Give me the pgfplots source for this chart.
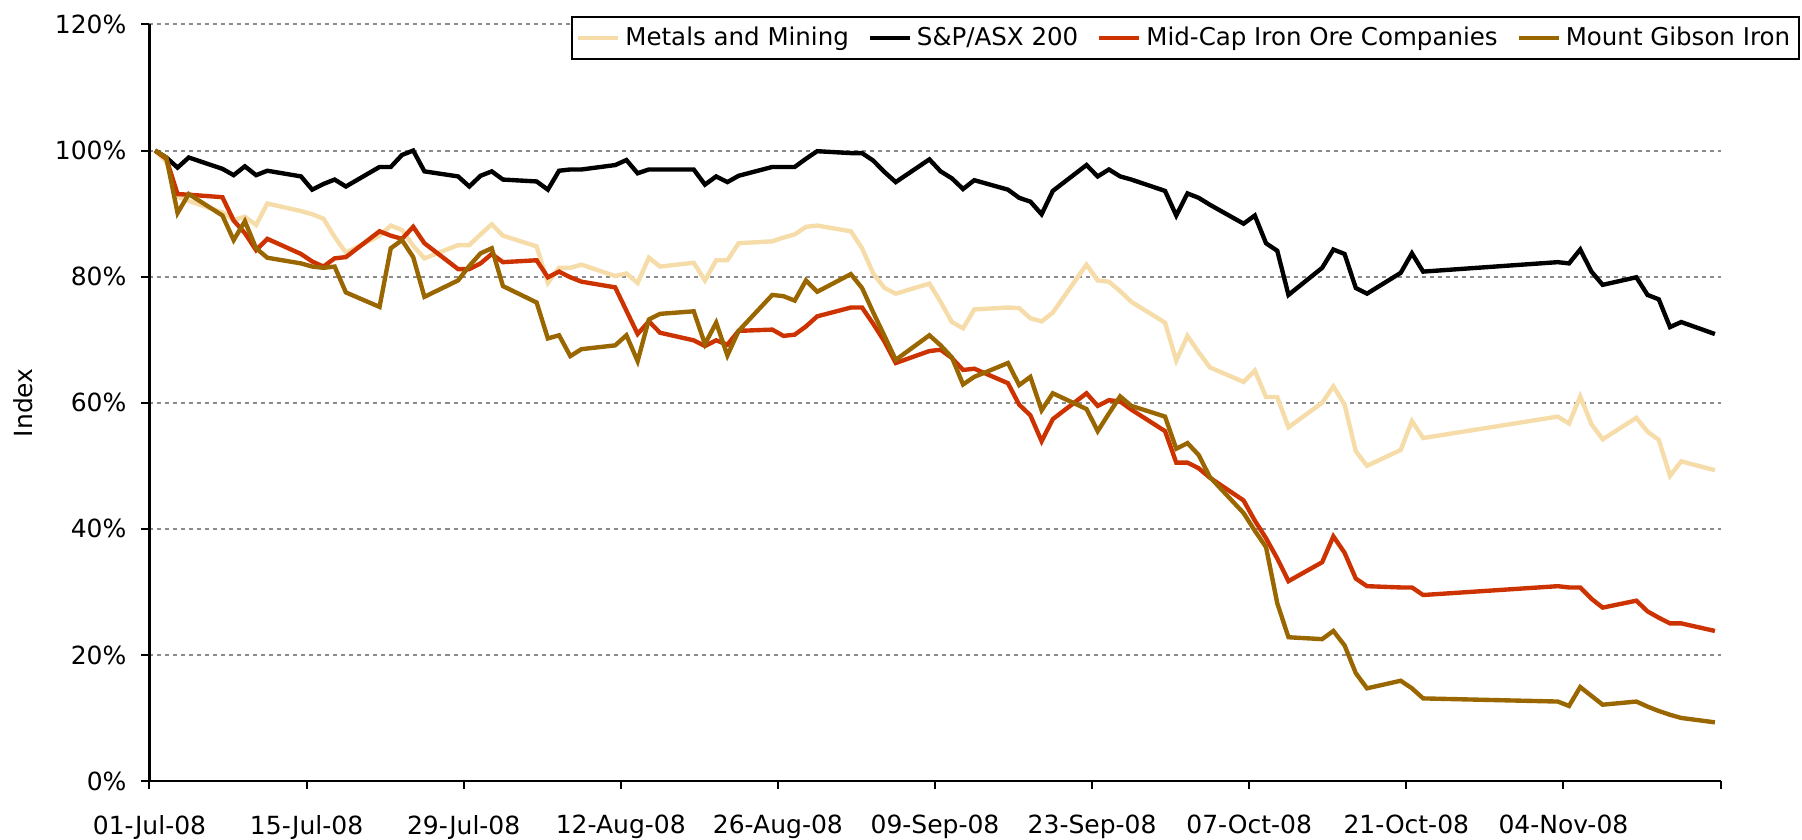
\documentclass[border=0pt]{standalone}
\usepackage{fontspec}
\setmainfont{DejaVu Sans}
\usepackage{pgfplots}
\usepackage{pgfplotstable}
\pgfplotsset{compat=1.18}
\definecolor{mmcol}{RGB}{245,220,168}
\definecolor{midcol}{RGB}{204,51,0}
\definecolor{mgicol}{RGB}{153,102,0}
\definecolor{gridcol}{RGB}{140,140,140}
\pgfplotstableread{
d mm asx mid mgi
0 100 100 100 100
1 98.2 98.9 98.7 98.9
2 92.7 97.3 93.1 90.1
3 92.0 98.9 93.0 93.1
6 90.2 97.1 92.6 89.7
7 89.0 96.1 88.9 85.8
8 89.5 97.5 86.9 88.8
9 88.2 96.1 84.2 84.5
10 91.6 96.8 86.0 83.0
13 90.4 95.9 83.6 82.1
14 89.9 93.8 82.4 81.6
15 89.2 94.7 81.6 81.4
16 86.3 95.4 82.9 81.6
17 83.8 94.3 83.1 77.5
20 86.5 97.4 87.2 75.2
21 88.1 97.4 86.5 84.5
22 87.4 99.3 86.0 85.8
23 84.9 100.0 87.9 83.1
24 82.9 96.7 85.3 76.8
27 85.0 95.9 81.2 79.4
28 85.0 94.3 81.2 81.7
29 86.7 96.0 82.1 83.7
30 88.3 96.7 83.6 84.5
31 86.5 95.4 82.3 78.5
34 84.8 95.1 82.6 75.9
35 79.0 93.8 79.9 70.2
36 81.4 96.8 80.8 70.7
37 81.4 97.0 79.9 67.4
38 81.9 97.0 79.2 68.5
41 80.1 97.7 78.3 69.1
42 80.5 98.5 74.6 70.7
43 79.0 96.4 70.9 66.6
44 83.0 97.0 72.9 73.2
45 81.6 97.0 71.1 74.1
48 82.2 97.0 69.9 74.5
49 79.4 94.6 69.0 69.3
50 82.6 95.9 69.9 72.7
51 82.6 95.0 69.2 67.5
52 85.3 96.0 71.4 71.4
55 85.6 97.4 71.6 77.1
56 86.2 97.4 70.6 76.9
57 86.7 97.4 70.8 76.2
58 87.9 98.7 72.1 79.4
59 88.1 99.9 73.7 77.6
62 87.2 99.6 75.1 80.4
63 84.5 99.6 75.1 78.2
64 80.5 98.4 72.5 74.3
65 78.2 96.6 69.7 70.6
66 77.3 95.0 66.3 66.8
69 78.9 98.6 68.2 70.7
70 76.0 96.7 68.4 69.1
71 72.8 95.6 67.1 67.2
72 71.8 93.9 65.2 62.9
73 74.8 95.3 65.4 64.1
76 75.1 93.8 63.1 66.3
77 75.0 92.5 59.7 62.8
78 73.4 91.9 58.0 64.1
79 72.9 89.9 53.9 58.8
80 74.3 93.6 57.4 61.5
83 81.9 97.7 61.5 59.0
84 79.4 95.9 59.5 55.5
85 79.2 97.0 60.4 58.3
86 77.7 95.9 60.2 61.0
87 76.0 95.4 58.9 59.5
90 72.7 93.6 55.5 57.8
91 66.7 89.7 50.5 52.7
92 70.6 93.2 50.5 53.6
93 68.0 92.5 49.6 51.7
94 65.6 91.4 48.1 48.2
97 63.3 88.4 44.5 42.5
98 65.1 89.7 41.3 39.7
99 60.9 85.3 38.5 37.1
100 60.9 84.1 35.3 28.2
101 56.1 77.1 31.7 22.8
104 60.0 81.4 34.7 22.5
105 62.6 84.3 38.8 23.8
106 59.7 83.6 36.2 21.5
107 52.3 78.2 32.1 17.1
108 50.0 77.3 30.9 14.7
111 52.5 80.6 30.7 15.9
112 57.1 83.7 30.7 14.7
113 54.4 80.8 29.5 13.1
125 57.8 82.3 30.9 12.6
126 56.7 82.1 30.7 11.9
127 61.0 84.3 30.7 14.9
128 56.6 80.8 28.9 13.5
129 54.2 78.7 27.5 12.1
132 57.6 79.9 28.6 12.6
133 55.4 77.1 26.9 11.8
134 54.1 76.4 25.9 11.1
135 48.4 72.0 25.0 10.5
136 50.7 72.8 25.0 10.0
139 49.3 70.9 23.8 9.3
}\data
\begin{document}
\begin{tikzpicture}
\useasboundingbox (-59.8pt,-23.6pt) rectangle (661pt,312.4pt);
\begin{axis}[
  at={(0,0)}, anchor=south west,
  scale only axis, width=628.4pt, height=302.6pt,
  xmin=0, xmax=140, ymin=0, ymax=120,
  axis x line*=bottom, axis y line*=left,
  axis line style={line width=1pt, -},
  tick align=outside, major tick length=3.2pt,
  every tick/.style={black, line width=0.8pt},
  xtick={0,14,...,140},
  xticklabels={01-Jul-08,15-Jul-08,29-Jul-08,12-Aug-08,26-Aug-08,09-Sep-08,23-Sep-08,07-Oct-08,21-Oct-08,04-Nov-08,},
  ytick={0,20,...,120},
  yticklabel={\pgfmathprintnumber{\tick}\%},
  /pgf/number format/assume math mode=true,
  xticklabel style={yshift=-7pt},
  yticklabel style={xshift=-2.5pt},
  ymajorgrids,
  major grid style={gridcol, line width=0.8pt, dash pattern=on 1.6pt off 1.6pt},
  every axis y label/.style={at={(axis description cs:0,0.5)}, xshift=-50.6pt, rotate=90, anchor=center},
  ylabel={Index},
  legend columns=4,
  legend cell align=left,
  legend style={at={(0.2685,1.0115)}, anchor=north west, draw=black, line width=0.8pt, fill=white,
    inner xsep=1.5pt, inner ysep=2pt, nodes={inner sep=2pt}, font=\fontsize{9.8}{12}\selectfont,
    /tikz/every even column/.append style={column sep=5.5pt}},
  legend image code/.code={\draw[#1] (0pt,0pt) -- (16pt,0pt);},
]
\addplot[mmcol, line width=1.75pt] table[x expr=\thisrow{d}+0.5, y=mm] {\data};
\addlegendentry{Metals and Mining}
\addplot[black, line width=1.75pt] table[x expr=\thisrow{d}+0.5, y=asx] {\data};
\addlegendentry{S\&P/ASX 200}
\addplot[midcol, line width=1.75pt] table[x expr=\thisrow{d}+0.5, y=mid] {\data};
\addlegendentry{Mid-Cap Iron Ore Companies}
\addplot[mgicol, line width=1.75pt] table[x expr=\thisrow{d}+0.5, y=mgi] {\data};
\addlegendentry{Mount Gibson Iron}
\end{axis}
\end{tikzpicture}
\end{document}
